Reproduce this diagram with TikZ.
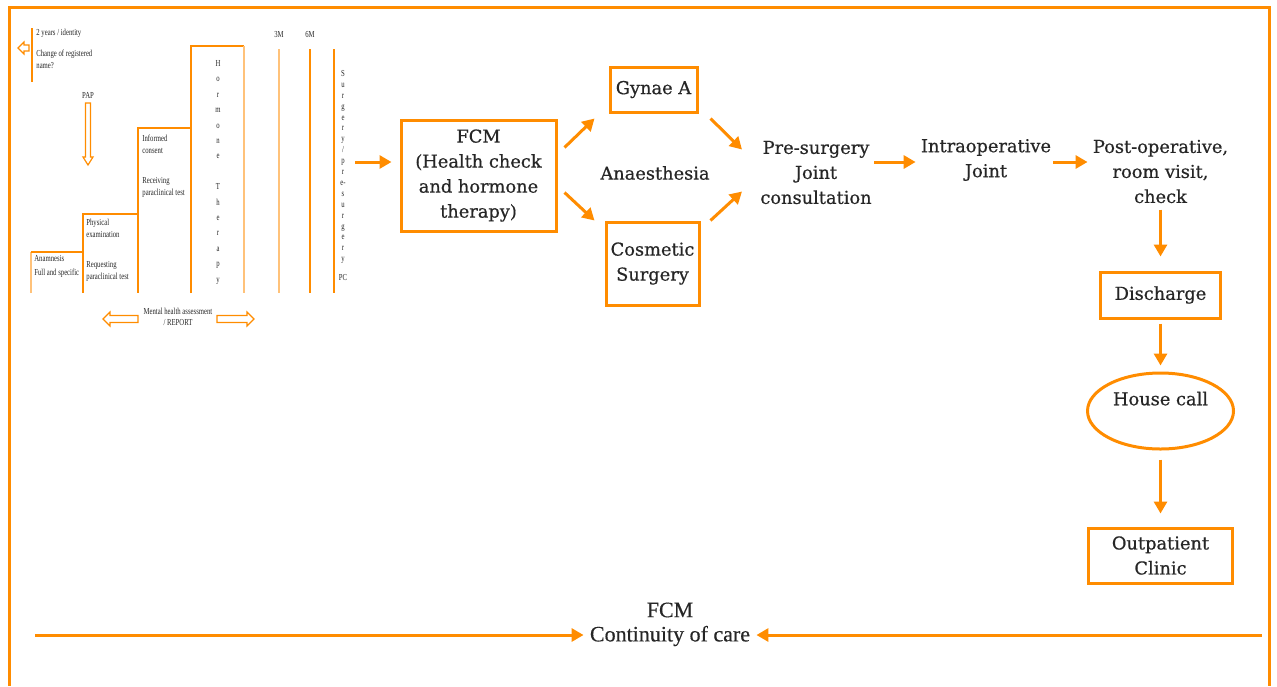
\documentclass[tikz,border=0pt]{standalone}
\usepackage{fontspec}
\setmainfont{DejaVu Serif}[FakeBold=0.6]
\newfontfamily\flowserif[FakeBold=0.6]{DejaVu Serif}
\newfontfamily\smallserif[FakeStretch=0.73]{Liberation Serif}
\newfontfamily\footserif[FakeBold=0.4]{Liberation Serif}
\usetikzlibrary{arrows.meta, shapes.geometric}
\definecolor{fcmorange}{HTML}{FF8C00}
\definecolor{fcmpale}{HTML}{FFC27A}
\definecolor{fcmtext}{HTML}{262626}

\begin{document}
\begin{tikzpicture}[x=0.5pt, y=-0.5pt,
  box/.style={draw=fcmorange, line width=1.5pt, align=center, inner sep=0pt, text=fcmtext, font=\flowserif\fontsize{8.9}{12.5}\selectfont},
  flowtext/.style={align=center, inner sep=1pt, text=fcmtext, font=\flowserif\fontsize{8.9}{12.5}\selectfont},
  flow/.style={draw=fcmorange, line width=1.5pt, -{Triangle[length=6pt,width=6.5pt]}},
  smalltxt/.style={inner sep=0pt, align=left, anchor=north west, text=fcmtext, font=\smallserif\fontsize{4.6}{6}\selectfont},
  stepline/.style={draw=fcmorange, line width=0.8pt},
  openarrow/.style={draw=fcmorange, line width=0.6pt, line join=miter}]

	\useasboundingbox (0,0) rectangle (1277,686);
	% frame
	\draw[fcmorange, line width=1.5pt] (9,686) -- (9,7) -- (1269,7) -- (1269,686);

	% left panel
	\draw[stepline] (32,28) -- (32,82);
	\draw[openarrow] (18,48) -- (24,42) -- (24,45) -- (29,45) -- (29,51) -- (24,51) -- (24,54) -- cycle;
	\node[smalltxt] (ident) at (36,29) {2 years / identity};
	\node[smalltxt] (rename) at (36,50) {Change of registered\\name?};
	\node[smalltxt, anchor=center] (pap) at (88,95) {PAP};
	\draw[openarrow] (88,165) -- (83,157) -- (85.5,157) -- (85.5,103) -- (90.5,103) -- (90.5,157) -- (93,157) -- cycle;

	\draw[stepline, fcmpale] (31,293) -- (31,252);
	\draw[stepline] (31,252) -- (83,252) -- (83,293);
	\draw[stepline] (83,252) -- (83,214) -- (138,214) -- (138,293);
	\draw[stepline] (138,214) -- (138,128) -- (191,128);
	\draw[stepline] (191,293) -- (191,46) -- (244,46);
	\draw[stepline, fcmpale] (244,46) -- (244,293);
	\draw[stepline, fcmpale] (279,49) -- (279,293);
	\foreach \x in {310,334}
		\draw[stepline] (\x,49) -- (\x,293);

	\node[smalltxt] (anamn) at (34,255) {Anamnesis\\[1pt]Full and specific};
	\node[smalltxt] (physex) at (86,219) {Physical\\examination};
	\node[smalltxt] (reqtest) at (86,261) {Requesting\\paraclinical test};
	\node[smalltxt] (consent) at (142,135) {Informed\\consent};
	\node[smalltxt] (rectest) at (142,177) {Receiving\\paraclinical test};
	\node[smalltxt, anchor=north, align=center, font=\smallserif\fontsize{4.6}{7.7}\selectfont] (hormone) at (218,60)
		{H\\o\\r\\m\\o\\n\\e\\[7.7pt]T\\h\\e\\r\\a\\p\\y};
	\node[smalltxt, anchor=center] (m3) at (279,34) {3M};
	\node[smalltxt, anchor=center] (m6) at (310,34) {6M};
	\node[smalltxt, anchor=north, align=center, font=\smallserif\fontsize{4.6}{5.45}\selectfont] (surg) at (343,70)
		{S\\u\\r\\g\\e\\r\\y\\/\\p\\r\\e-\\s\\u\\r\\g\\e\\r\\y\\[4pt]PC};
	\node[smalltxt, anchor=center, align=center, font=\smallserif\fontsize{4.6}{5.5}\selectfont] (mental) at (178,316.5)
		{Mental health assessment\\/ REPORT};
	\draw[openarrow] (103,319) -- (110,312) -- (110,315.5) -- (138,315.5) -- (138,322.5) -- (110,322.5) -- (110,326) -- cycle;
	\draw[openarrow] (254,319) -- (247,312) -- (247,315.5) -- (217,315.5) -- (217,322.5) -- (247,322.5) -- (247,326) -- cycle;

	% main flow
	\node[box, minimum width=77.5pt, minimum height=55.5pt] (fcm) at (478.5,175.5) {FCM\\(Health check\\and hormone\\therapy)};
	\node[box, minimum width=43.5pt, minimum height=22.5pt] (gynae) at (653.5,89.5) {Gynae A};
	\node[flowtext] (anaes) at (655,173) {Anaesthesia};
	\node[box, minimum width=46.5pt, minimum height=41.5pt] (cosm) at (652.5,263.5) {Cosmetic\\Surgery};
	\node[flowtext] (presurg) at (816,172.5) {Pre-surgery\\Joint\\consultation};
	\node[flowtext] (intraop) at (986,160) {Intraoperative\\Joint};
	\node[flowtext] (postop) at (1160.5,171.5) {Post-operative,\\room visit,\\check};
	\node[box, minimum width=60pt, minimum height=23pt] (disch) at (1160.5,295) {Discharge};
	\node[box, ellipse, minimum width=73pt, minimum height=38pt] (house) at (1160.5,411) {House call\\\mbox{}};
	\node[box, minimum width=72pt, minimum height=27.5pt] (outpat) at (1160.5,555.5) {Outpatient\\Clinic};

	\coordinate (pcout) at (355,162);
	\draw[flow, shorten >=4pt] (pcout) -- (fcm.west |- pcout);
	\draw[flow] ([shift={(7,29)}]fcm.north east) -- ([shift={(-14,5)}]gynae.south west);
	\draw[flow] ([shift={(7,-40)}]fcm.south east) -- ([shift={(-10,0)}]cosm.north west);
	\draw[flow] ([shift={(12,5)}]gynae.south east) -- ([shift={(-16,-23)}]presurg.west);
	\draw[flow] ([shift={(10,0)}]cosm.north east) -- ([shift={(-16,19)}]presurg.west);
	\draw[flow, shorten <=0pt, shorten >=1.5pt] (presurg.east |- pcout) -- (intraop.west |- pcout);
	\draw[flow, shorten <=0pt, shorten >=1.5pt] (intraop.east |- pcout) -- (postop.west |- pcout);
	\draw[flow, shorten <=2pt, shorten >=7pt] (postop) -- (disch);
	\draw[flow, shorten <=2pt, shorten >=3pt] (disch) -- (house);
	\draw[flow, shorten <=4.5pt, shorten >=6.5pt] (house) -- (outpat);

	% continuity of care
	\node[flowtext, font=\footserif\fontsize{11}{13}\selectfont] (fcmcare) at (670,610) {FCM};
	\node[flowtext, font=\footserif\fontsize{11}{13}\selectfont] (care) at (670,636) {Continuity of care};
	\coordinate (careleft) at (35,635);
	\coordinate (careright) at (1262,635);
	\draw[flow, shorten >=2pt] (careleft) -- (care.west |- careleft);
	\draw[flow, shorten >=2pt] (careright) -- (care.east |- careright);
\end{tikzpicture}
\end{document}
